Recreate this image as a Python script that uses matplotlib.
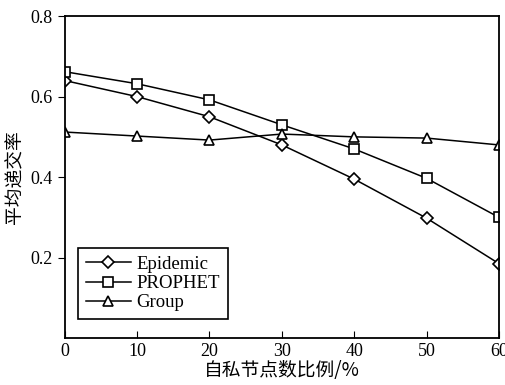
import numpy as np
import matplotlib
matplotlib.use("Agg")
import matplotlib.pyplot as plt

plt.rcParams['font.family'] = ['Liberation Serif', 'Noto Sans CJK SC']

x = [0, 10, 20, 30, 40, 50, 60]
epidemic = [0.64, 0.60, 0.55, 0.48, 0.395, 0.298, 0.185]
prophet = [0.662, 0.632, 0.592, 0.53, 0.47, 0.397, 0.30]
group = [0.512, 0.502, 0.492, 0.507, 0.50, 0.497, 0.48]

fig = plt.figure(figsize=(5.06, 3.85), dpi=100)
ax = fig.add_axes([0.128, 0.122, 0.858, 0.836])

mk = dict(color='black', lw=1.1, mfc='white', mec='black', mew=1.2)
ax.plot(x, epidemic, marker='D', ms=6, label='Epidemic', **mk)
ax.plot(x, prophet, marker='s', ms=7, label='PROPHET', **mk)
ax.plot(x, group, marker='^', ms=7, label='Group', **mk)

ax.set_xlim(0, 60)
ax.set_ylim(0, 0.8)
ax.set_xticks(x)
ax.set_yticks([0.2, 0.4, 0.6, 0.8])
ax.set_yticklabels(['0.2', '0.4', '0.6', '0.8'])
ax.tick_params(axis='x', direction='in', labelsize=13, length=5)
ax.tick_params(axis='y', direction='out', labelsize=13, length=5)
for s in ax.spines.values():
    s.set_linewidth(1.3)

ax.set_xlabel('自私节点数比例/%', family=['Noto Sans CJK SC'], fontsize=13.5, labelpad=0)
ax.set_ylabel('平均递交率', family=['Noto Sans CJK SC'], fontsize=13.5, labelpad=4)

leg = ax.legend(loc='lower left', fontsize=13.5, fancybox=False, framealpha=1,
                edgecolor='black', handlelength=2.4, borderpad=0.4,
                labelspacing=0.12, handletextpad=0.3, bbox_to_anchor=(0.01, 0.03))
leg.get_frame().set_linewidth(1.2)

fig.savefig('out.png', dpi=100)
